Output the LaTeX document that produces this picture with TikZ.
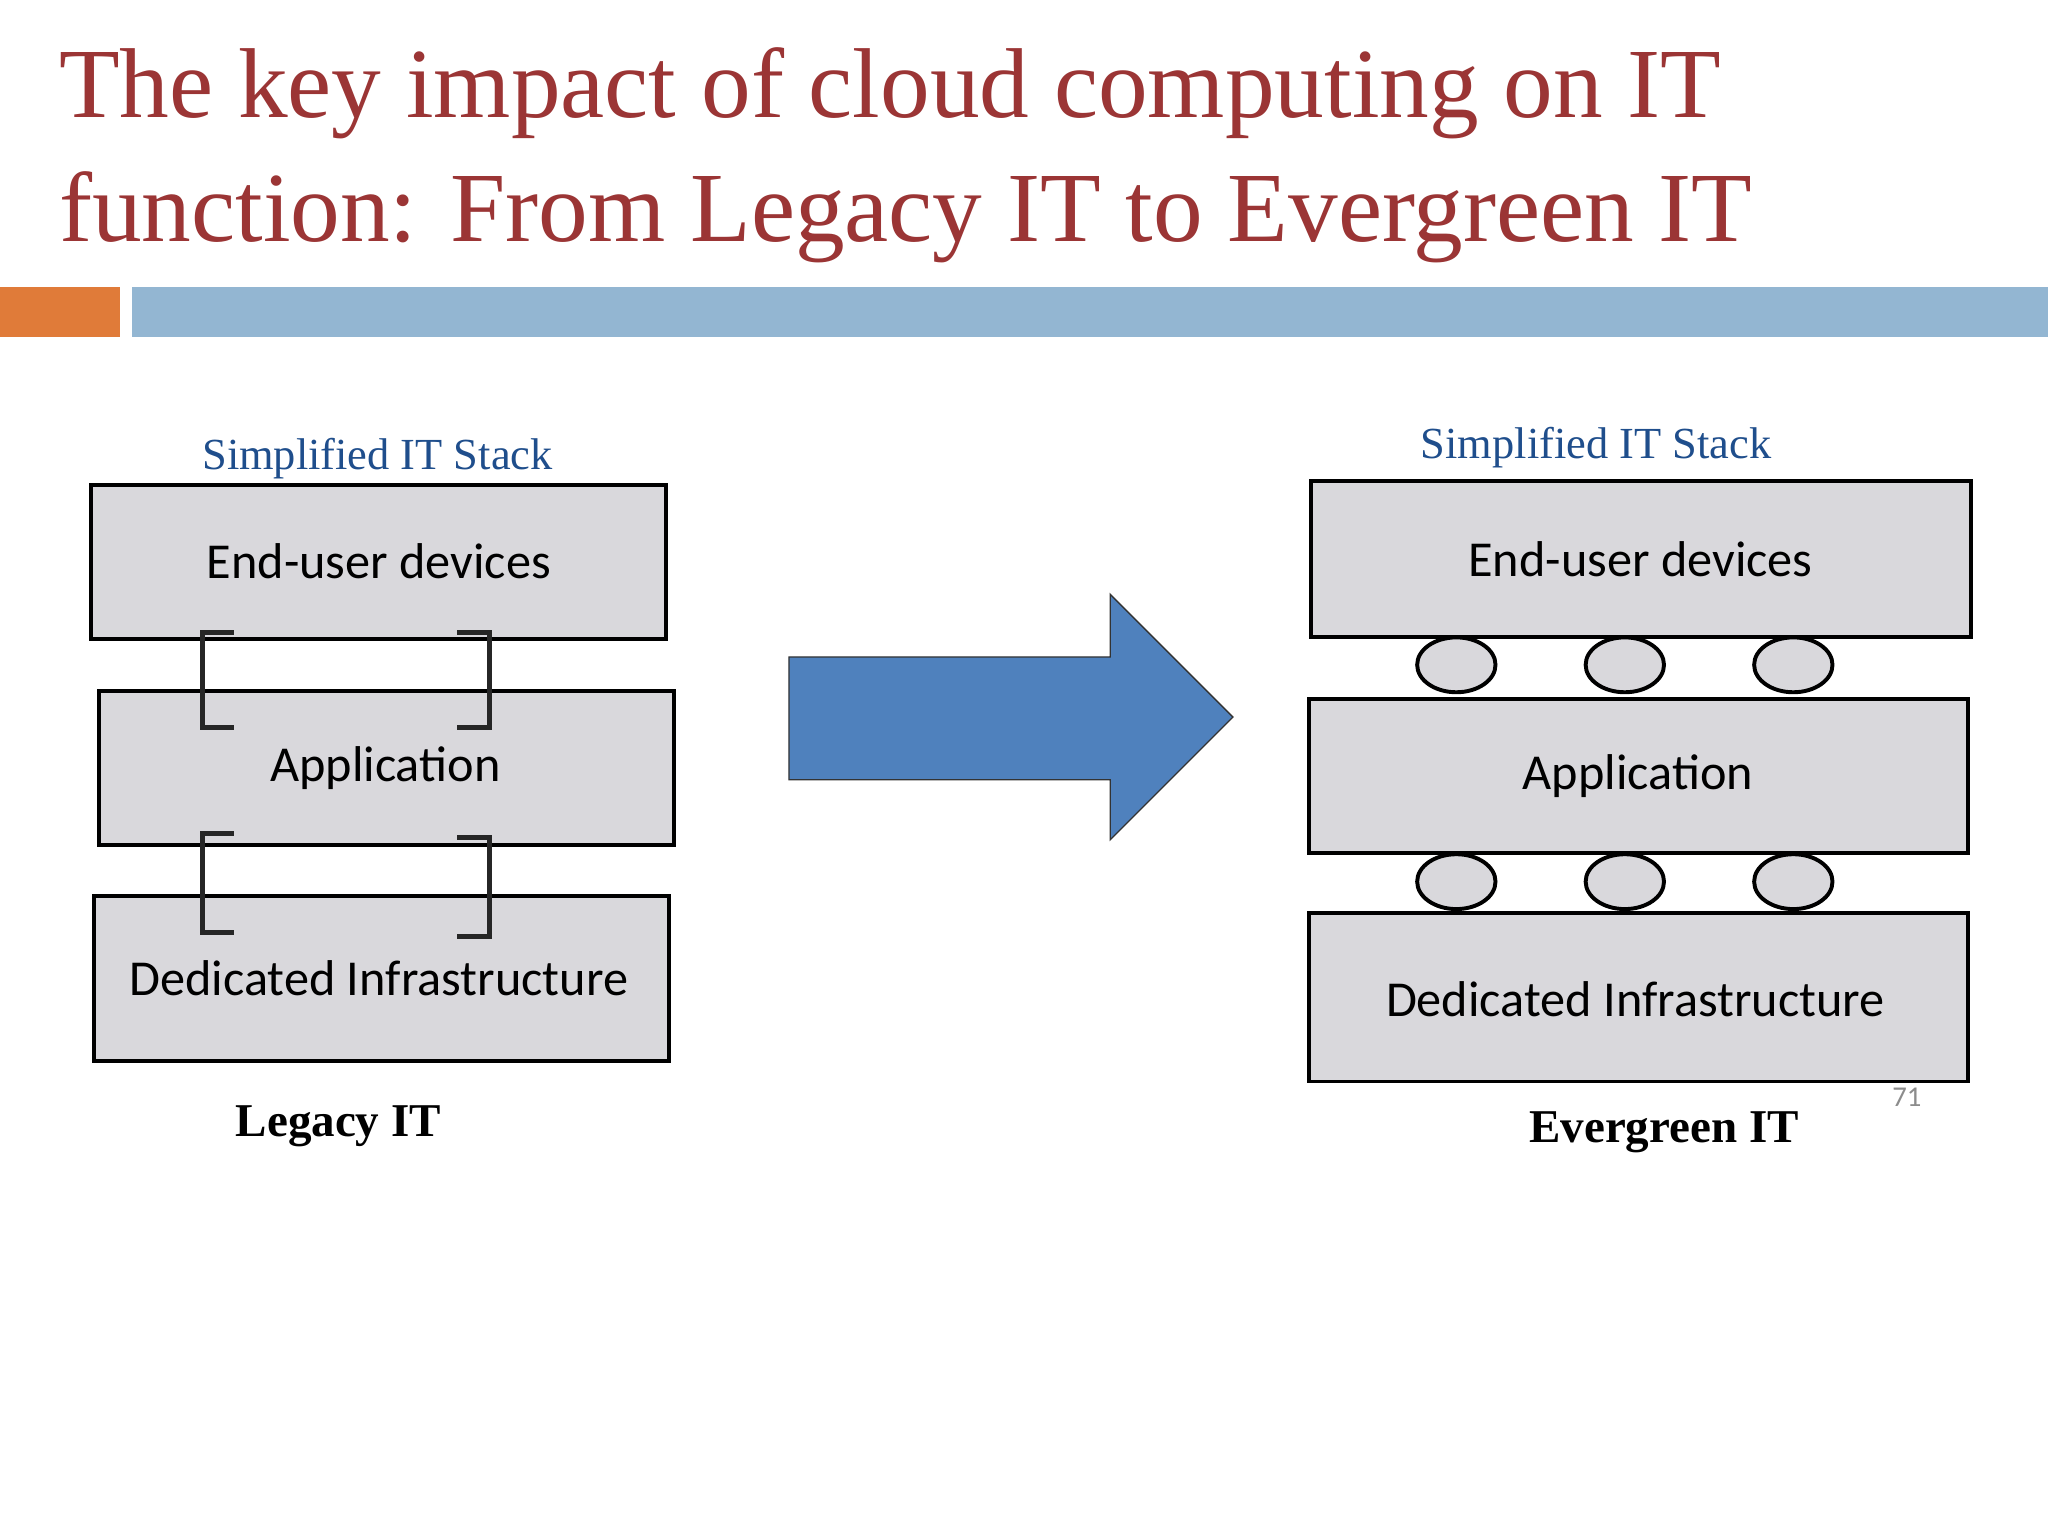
\documentclass[tikz,border=0pt]{standalone}
\usepackage{fontspec}
\setmainfont{Liberation Serif}
\newfontfamily\boxfont{Carlito}
\definecolor{titlered}{HTML}{9B3535}
\definecolor{stackblue}{HTML}{1F4E8C}
\definecolor{boxgray}{HTML}{D9D8DC}
\definecolor{arrowblue}{HTML}{4F81BD}
\definecolor{barorange}{HTML}{E07B39}
\definecolor{barblue}{HTML}{93B6D2}
\tikzset{
  layer/.style={draw=black,line width=3pt,fill=boxgray},
  layertext/.style={font=\boxfont\fontsize{38.5}{44}\selectfont},
  brk/.style={draw=black!85,line width=4pt},
  conn/.style={draw=black,line width=3pt,fill=boxgray},
  stacklbl/.style={font=\fontsize{34}{40}\selectfont,text=stackblue},
  itlbl/.style={font=\bfseries\fontsize{36}{40}\selectfont},
}
\begin{document}
\begin{tikzpicture}[x=1pt,y=-1pt]
\useasboundingbox (0,0) rectangle (1568,1176);
\fill[white] (0,0) rectangle (1568,1176);
% title
\node[anchor=base west,inner sep=0,text=titlered,font=\fontsize{76}{90}\selectfont] (t1) at (45,90) {The key impact of cloud computing on IT};
\node[anchor=base west,inner sep=0,text=titlered,font=\fontsize{76}{90}\selectfont] (t2) at (45,185) {function: From Legacy IT to Evergreen IT};
\fill[barorange] (0,220) rectangle (92,258);
\fill[barblue] (101,220) rectangle (1568,258);
% left stack
\node[stacklbl] (sl) at (289,351) {Simplified IT Stack};
\draw[layer] (70,371) rectangle (510,489);
\node[layertext] (l1) at (290,430) {End-user devices};
\draw[layer] (76,529) rectangle (516,647);
\node[layertext] (l2) at (295,588) {Application};
\draw[layer] (72,686) rectangle (512,812);
\node[layertext] (l3) at (290,749) {Dedicated Infrastructure};
\draw[brk] (179,484) -- (155,484) -- (155,557) -- (179,557);
\draw[brk] (350,484) -- (375,484) -- (375,557) -- (350,557);
\draw[brk] (179,638) -- (155,638) -- (155,714) -- (179,714);
\draw[brk] (350,641) -- (375,641) -- (375,717) -- (350,717);
\node[itlbl] (lg) at (259,862) {Legacy IT};
% arrow
\draw[fill=arrowblue,draw=black!80,line width=1pt] (604,503) -- (850,503) -- (850,455) -- (944,549) -- (850,643) -- (850,597) -- (604,597) -- cycle;
% right stack
\node[stacklbl] (sr) at (1222,343) {Simplified IT Stack};
\draw[layer] (1004,368) rectangle (1509,488);
\node[layertext] (r1) at (1256,428) {End-user devices};
\draw[layer] (1002,535) rectangle (1507,653);
\node[layertext] (r2) at (1254,594) {Application};
\draw[layer] (1002,699) rectangle (1507,828);
\node[layertext] (r3) at (1252,765) {Dedicated Infrastructure};
\foreach \x in {1115,1244,1373}{
  \draw[conn] (\x,509) ellipse (30 and 21);
  \draw[conn] (\x,675) ellipse (30 and 21);
}
\node[itlbl] (eg) at (1274,867) {Evergreen IT};
\node[text=black!45,font=\boxfont\fontsize{22}{24}\selectfont] (pg) at (1460,840) {71};
\end{tikzpicture}
\end{document}
